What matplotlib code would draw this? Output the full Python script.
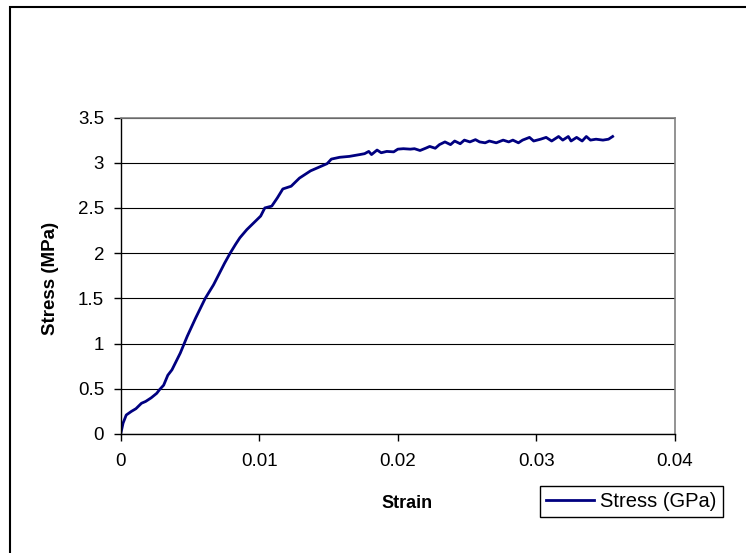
import matplotlib.pyplot as plt
from matplotlib.patches import Rectangle

plt.rcParams['font.family'] = ['Liberation Sans', 'DejaVu Sans']

# strain / stress
strain = [0.0, 0.00017, 0.0004, 0.00077, 0.0011, 0.0015, 0.0018, 0.0022, 0.0026, 0.0028,
          0.0031, 0.0034, 0.0037, 0.0043, 0.0048, 0.0054, 0.0061, 0.0067, 0.0072, 0.0075,
          0.0079, 0.0083, 0.0086, 0.0091, 0.0101, 0.0104, 0.0109, 0.0113, 0.0117, 0.0123,
          0.0129, 0.0137, 0.0143, 0.0149, 0.0152, 0.0158, 0.0165, 0.01725, 0.0176, 0.0179,
          0.0181, 0.0185, 0.0188, 0.0192, 0.0197, 0.0200, 0.0204, 0.0209, 0.0212, 0.0216,
          0.0220, 0.0223, 0.0227, 0.0230, 0.0234, 0.0238, 0.0241, 0.0245, 0.0248, 0.0252,
          0.0256, 0.0259, 0.0263, 0.0266, 0.0271, 0.0276, 0.0280, 0.0283, 0.0287, 0.0290,
          0.0295, 0.0298, 0.0303, 0.0307, 0.0311, 0.0316, 0.0319, 0.0323, 0.0325, 0.0329,
          0.0333, 0.0336, 0.0339, 0.0343, 0.0348, 0.0352, 0.0355]
stress = [0.0, 0.12, 0.21, 0.25, 0.28, 0.34, 0.36, 0.40, 0.45, 0.49,
          0.54, 0.65, 0.71, 0.895, 1.08, 1.28, 1.50, 1.65, 1.80, 1.89,
          2.00, 2.10, 2.17, 2.26, 2.41, 2.50, 2.52, 2.61, 2.71, 2.74,
          2.83, 2.91, 2.95, 2.99, 3.04, 3.06, 3.07, 3.09, 3.10, 3.125,
          3.09, 3.14, 3.11, 3.125, 3.12, 3.15, 3.155, 3.15, 3.155, 3.135,
          3.16, 3.18, 3.16, 3.20, 3.23, 3.20, 3.24, 3.21, 3.25, 3.23,
          3.255, 3.23, 3.22, 3.24, 3.22, 3.25, 3.23, 3.25, 3.22, 3.25,
          3.28, 3.24, 3.26, 3.28, 3.24, 3.29, 3.25, 3.29, 3.24, 3.28,
          3.24, 3.29, 3.25, 3.26, 3.25, 3.26, 3.29]

x_ticks = [0, 0.01, 0.02, 0.03, 0.04]
x_labels = ['0', '0.01', '0.02', '0.03', '0.04']
y_ticks = [0, 0.5, 1, 1.5, 2, 2.5, 3, 3.5]
y_labels = ['0', '0.5', '1', '1.5', '2', '2.5', '3', '3.5']

W, H = 746, 553
fig = plt.figure(figsize=(W / 100, H / 100), dpi=100)
ax = fig.add_axes([120.7 / W, 1 - 434 / H, (675 - 120.7) / W, (434 - 117.5) / H])

ax.plot(strain, stress, color='#000080', lw=2.0, label='Stress (GPa)')

ax.set_xlim(0, 0.04)
ax.set_ylim(0, 3.5)
ax.set_xticks(x_ticks, x_labels)
ax.set_yticks(y_ticks, y_labels)
ax.tick_params(axis='both', direction='out', length=5, width=1, labelsize=13.5, color='black')
ax.tick_params(axis='x', pad=9)
ax.tick_params(axis='y', pad=7)
ax.yaxis.grid(True, color='black', lw=0.8)
ax.set_axisbelow(True)

for side in ['top', 'right']:
    ax.spines[side].set_color('#808080')
    ax.spines[side].set_linewidth(1.2)
for side in ['left', 'bottom']:
    ax.spines[side].set_color('black')
    ax.spines[side].set_linewidth(1.0)

ax.set_xlabel('Strain', fontsize=13, fontweight='bold', va='center')
ax.xaxis.set_label_coords((407 - 120.7) / (675 - 120.7), (434 - 503) / (434 - 117.5))
ax.set_ylabel('Stress (MPa)', fontsize=13.5, fontweight='bold', va='center')
ax.yaxis.set_label_coords((50 - 120.7) / (675 - 120.7), 0.49)

leg = ax.legend(loc='upper left', bbox_to_anchor=(540 / W, 1 - 486 / H),
                bbox_transform=fig.transFigure, borderaxespad=0, fancybox=False,
                fontsize=14.5, handlelength=2.4, handletextpad=0.3, borderpad=0.3,
                framealpha=1)
leg.get_frame().set_edgecolor('black')
leg.get_frame().set_linewidth(1.0)

# chart area border (only left and top visible in the crop)
fig.add_artist(Rectangle((10 / W, -0.1), 1.2, 1.1 - 7 / H, transform=fig.transFigure,
                         fill=False, ec='black', lw=1.5))

fig.savefig('out.png', dpi=100)
